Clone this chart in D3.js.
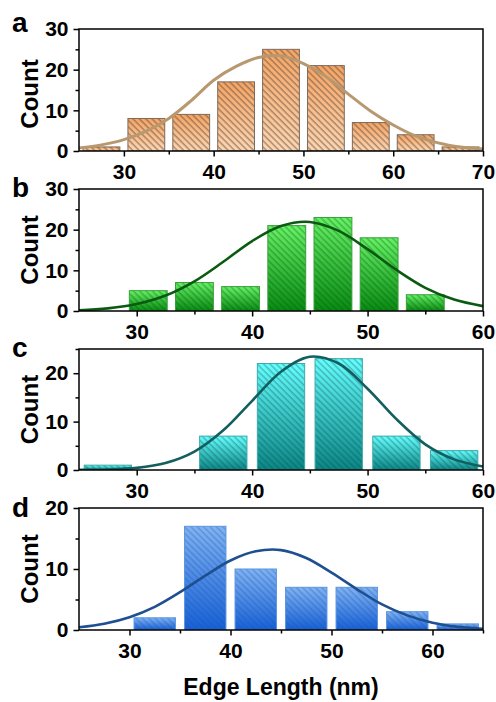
<!DOCTYPE html>
<html lang="en">
<head>
<meta charset="UTF-8">
<title>Edge Length histograms</title>
<script src="https://d3js.org/d3.v7.min.js"></script>
<style>
  body { margin: 0; background: #fff; }
  svg { display: block; font-family: Arial, "Liberation Sans", sans-serif; }
</style>
</head>
<body>
<script>
// panel a
const aBinStart = [25, 30, 35, 40, 45, 50, 55, 60, 65];
const aCounts = [1, 8, 9, 17, 25, 21, 7, 4, 1];
const aFitX = [25, 27.5, 30, 32.5, 35, 37.5, 40, 42.5, 45, 47.5, 50, 52.5, 55, 57.5, 60, 62.5, 65, 67.5, 70];
const aFitY = [0.75, 1.5, 2.8, 4.9, 8.0, 12.4, 17.4, 20.8, 23.0, 23.4, 21.5, 18.3, 14.0, 9.8, 6.4, 3.7, 2.0, 1.0, 0.5];
const aXTicks = [30, 40, 50, 60, 70];
const aYTicks = [0, 10, 20, 30];

// panel b
const bBinStart = [29, 33, 37, 41, 45, 49, 53];
const bCounts = [5, 7, 6, 21, 23, 18, 4];
const bFitX = [25, 27.5, 30, 32.5, 35, 37.5, 40, 42.5, 45, 47.5, 50, 52.5, 55, 57.5, 60];
const bFitY = [0.2, 0.65, 1.7, 3.8, 7.3, 12.1, 17.2, 20.9, 21.9, 19.7, 15.2, 10.1, 5.7, 2.8, 1.2];
const bXTicks = [30, 40, 50, 60];
const bYTicks = [0, 10, 20, 30];

// panel c
const cBinStart = [25, 30, 35, 40, 45, 50, 55];
const cCounts = [1, 0, 7, 22, 23, 7, 4];
const cFitX = [25, 27.5, 30, 32.5, 35, 37.5, 40, 42.5, 45, 47.5, 50, 52.5, 55, 57.5, 60];
const cFitY = [0.02, 0.11, 0.44, 1.44, 3.8, 8.2, 14.3, 20.3, 23.4, 22.0, 16.8, 10.5, 5.3, 2.2, 0.73];
const cXTicks = [30, 40, 50, 60];
const cYTicks = [0, 10, 20];

// panel d
const dBinStart = [30, 35, 40, 45, 50, 55, 60];
const dCounts = [2, 17, 10, 7, 7, 3, 1];
const dFitX = [25, 27.5, 30, 32.5, 35, 37.5, 40, 42.5, 45, 47.5, 50, 52.5, 55, 57.5, 60, 62.5, 65];
const dFitY = [0.44, 1.03, 2.1, 3.8, 6.2, 8.9, 11.4, 12.9, 13.1, 11.8, 9.4, 6.7, 4.2, 2.4, 1.2, 0.53, 0.21];
const dXTicks = [30, 40, 50, 60];
const dYTicks = [0, 10, 20];

const panels = [
  { letter: "a", bins: aBinStart, counts: aCounts, binW: 5, fitX: aFitX, fitY: aFitY,
    xDom: [25, 70], yDom: [0, 30], xTicks: aXTicks, yTicks: aYTicks,
    top: 29, bottom: 151, letterDy: 3,
    c1: "#f5a464", c2: "#fcd6b2", stroke: "#7d6b5d", hatch: "#5a4636", hatchOp: 0.75, curve: "#b8986f", curveW: 3 },
  { letter: "b", bins: bBinStart, counts: bCounts, binW: 4, fitX: bFitX, fitY: bFitY,
    xDom: [25, 60], yDom: [0, 30], xTicks: bXTicks, yTicks: bYTicks,
    top: 189, bottom: 311, letterDy: 8,
    c1: "#66f266", c2: "#078a12", stroke: "#3a9f3a", hatch: "#0a4f0a", hatchOp: 0.5, curve: "#0a5a12", curveW: 2.6 },
  { letter: "c", bins: cBinStart, counts: cCounts, binW: 5, fitX: cFitX, fitY: cFitY,
    xDom: [25, 60], yDom: [0, 25], xTicks: cXTicks, yTicks: cYTicks,
    top: 349, bottom: 470, letterDy: 8,
    c1: "#66ffff", c2: "#0a8585", stroke: "#3fa8a8", hatch: "#0a4a4a", hatchOp: 0.5, curve: "#135f5f", curveW: 2.6 },
  { letter: "d", bins: dBinStart, counts: dCounts, binW: 5, fitX: dFitX, fitY: dFitY,
    xDom: [25, 65], yDom: [0, 20], xTicks: dXTicks, yTicks: dYTicks,
    top: 508, bottom: 630, letterDy: 9,
    c1: "#80b3f3", c2: "#1560d8", stroke: "#5b95e0", hatch: "#1f4f9a", hatchOp: 0.45, curve: "#1d4f91", curveW: 2.6 }
];

const W = 496, H = 702, left = 79, right = 483;
const svg = d3.select("body").append("svg").attr("width", W).attr("height", H);
const defs = svg.append("defs");

function styleAxis(g, labels) {
  g.select(".domain").remove();
  g.selectAll(".tick line").attr("stroke", "#000").attr("stroke-width", 1.5);
  if (labels) {
    g.selectAll(".tick text").attr("font-size", 21).attr("font-weight", "bold").attr("fill", "#000");
  } else {
    g.selectAll(".tick text").remove();
  }
}

panels.forEach((p, i) => {
  const x = d3.scaleLinear().domain(p.xDom).range([left, right]);
  const y = d3.scaleLinear().domain(p.yDom).range([p.bottom, p.top]);

  const grad = defs.append("linearGradient").attr("id", "grad" + i)
    .attr("x1", 0).attr("y1", 0).attr("x2", 0).attr("y2", 1);
  grad.append("stop").attr("offset", "0%").attr("stop-color", p.c1);
  grad.append("stop").attr("offset", "100%").attr("stop-color", p.c2);

  const pat = defs.append("pattern").attr("id", "hatch" + i)
    .attr("patternUnits", "userSpaceOnUse").attr("width", 4.5).attr("height", 4.5)
    .attr("patternTransform", "rotate(-45)");
  pat.append("line").attr("x1", 1).attr("y1", 0).attr("x2", 1).attr("y2", 4.5)
    .attr("stroke", p.hatch).attr("stroke-opacity", p.hatchOp).attr("stroke-width", 1);

  defs.append("clipPath").attr("id", "clip" + i).append("rect")
    .attr("x", left).attr("y", p.top).attr("width", right - left).attr("height", p.bottom - p.top);

  const g = svg.append("g");
  const inset = p.binW * 0.09;
  const bars = p.bins.map((b, k) => ({ x0: b, c: p.counts[k] })).filter(d => d.c > 0);

  const bar = g.append("g").attr("clip-path", `url(#clip${i})`)
    .selectAll("g").data(bars).join("g");
  bar.append("rect")
    .attr("x", d => x(d.x0 + inset)).attr("y", d => y(d.c))
    .attr("width", d => x(d.x0 + p.binW - inset) - x(d.x0 + inset))
    .attr("height", d => y(0) - y(d.c))
    .attr("fill", `url(#grad${i})`);
  bar.append("rect")
    .attr("x", d => x(d.x0 + inset)).attr("y", d => y(d.c))
    .attr("width", d => x(d.x0 + p.binW - inset) - x(d.x0 + inset))
    .attr("height", d => y(0) - y(d.c))
    .attr("fill", `url(#hatch${i})`)
    .attr("stroke", p.stroke).attr("stroke-width", 1);

  const line = d3.line().x(d => x(d[0])).y(d => y(d[1])).curve(d3.curveCatmullRom);
  g.append("path").attr("clip-path", `url(#clip${i})`)
    .datum(p.fitX.map((v, k) => [v, p.fitY[k]]))
    .attr("d", line).attr("fill", "none")
    .attr("stroke", p.curve).attr("stroke-width", p.curveW);

  // minor ticks
  const xMinor = d3.range(p.xDom[0] + 10, p.xDom[1] + 0.1, 10);
  const yMinor = d3.range(5, p.yDom[1] + 0.1, 10);
  g.append("g").attr("transform", `translate(0,${p.bottom})`)
    .call(d3.axisBottom(x).tickValues(xMinor).tickSize(3.5).tickSizeOuter(0))
    .call(a => styleAxis(a, false));
  g.append("g").attr("transform", `translate(${left},0)`)
    .call(d3.axisLeft(y).tickValues(yMinor).tickSize(3.5).tickSizeOuter(0))
    .call(a => styleAxis(a, false));

  g.append("g").attr("transform", `translate(0,${p.bottom})`)
    .call(d3.axisBottom(x).tickValues(p.xTicks).tickSize(5.5).tickPadding(8).tickSizeOuter(0))
    .call(a => styleAxis(a, true));
  g.append("g").attr("transform", `translate(${left},0)`)
    .call(d3.axisLeft(y).tickValues(p.yTicks).tickSize(5.5).tickPadding(5).tickSizeOuter(0))
    .call(a => styleAxis(a, true));

  g.append("rect").attr("x", left).attr("y", p.top)
    .attr("width", right - left).attr("height", p.bottom - p.top)
    .attr("fill", "none").attr("stroke", "#000").attr("stroke-width", 1.5);

  g.append("text").attr("x", 12).attr("y", p.top + p.letterDy)
    .attr("font-size", 28).attr("font-weight", "bold").text(p.letter);

  g.append("text")
    .attr("transform", `translate(38,${(p.top + p.bottom) / 2 + (i === 0 ? 4 : 0)}) rotate(-90)`)
    .attr("text-anchor", "middle").attr("font-size", 24).attr("font-weight", "bold").text("Count");
});

svg.append("text").attr("x", (left + right) / 2).attr("y", 695)
  .attr("text-anchor", "middle").attr("font-size", 23).attr("font-weight", "bold")
  .text("Edge Length (nm)");
</script>
</body>
</html>
